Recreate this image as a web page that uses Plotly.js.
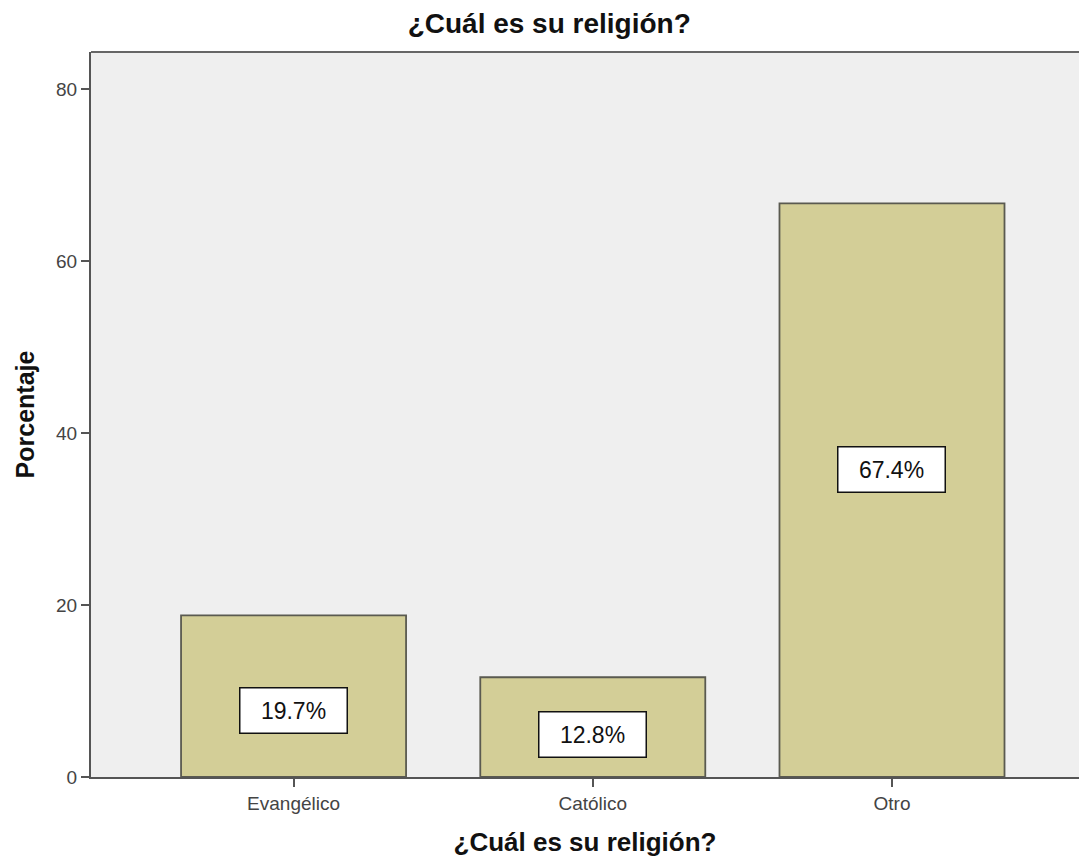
<!DOCTYPE html>
<html>
<head>
<meta charset="utf-8">
<script src="https://cdn.plot.ly/plotly-3.0.1.min.js"></script>
<style>html,body{margin:0;padding:0;background:#fff;}#chart{width:1079px;height:860px;}</style>
</head>
<body>
<div id="chart"></div>
<script>
// Data
const categories = ["Evangélico", "Católico", "Otro"];
const barValues = [18.8, 11.6, 66.7];
const labelTexts = ["19.7%", "12.8%", "67.4%"];
const yTicks = [0, 20, 40, 60, 80];

// label placement (layout only)
const labelY = [7.7, 5.0, 35.7];

const FONT = "Liberation Sans, Arial, sans-serif";

const trace = {
  type: "bar",
  x: categories,
  y: barValues,
  marker: { color: "#d3ce97", line: { color: "#5a5a50", width: 1.8 } },
  hoverinfo: "skip"
};

const annotations = categories.map((c, i) => ({
  x: c, y: labelY[i], xref: "x", yref: "y",
  text: labelTexts[i], showarrow: false,
  font: { family: FONT, size: 23, color: "#111" },
  bgcolor: "#ffffff", bordercolor: "#111", borderwidth: 1.5, borderpad: 1,
  width: 104, height: 42
}));

const layout = {
  width: 1079, height: 860,
  margin: { l: 91, r: 0, t: 52, b: 83 },
  paper_bgcolor: "#ffffff",
  plot_bgcolor: "#efefef",
  showlegend: false,
  bargap: 0.248,
  title: {
    text: "<b>¿Cuál es su religión?</b>",
    x: 0.509, xref: "container", xanchor: "center",
    y: 1, yref: "container", yanchor: "top", pad: { t: 13 },
    font: { family: FONT, size: 28, color: "#111" }
  },
  xaxis: {
    type: "category",
    range: [-0.677, 2.625],
    showline: true, linecolor: "#555", linewidth: 2,
    ticks: "outside", ticklen: 8, tickwidth: 2, tickcolor: "#555",
    tickfont: { family: FONT, size: 19, color: "#444" },
    showgrid: false, zeroline: false, fixedrange: true,
    title: {
      text: "<b>¿Cuál es su religión?</b>", standoff: 20,
      font: { family: FONT, size: 26, color: "#111" }
    }
  },
  yaxis: {
    range: [0, 84.3],
    tickvals: yTicks, ticktext: yTicks.map(String),
    showline: true, linecolor: "#555", linewidth: 2,
    ticks: "outside", ticklen: 8, tickwidth: 2, tickcolor: "#555",
    tickfont: { family: FONT, size: 19, color: "#444" },
    showgrid: false, zeroline: false, fixedrange: true,
    title: {
      text: "<b>Porcentaje</b>", standoff: 14,
      font: { family: FONT, size: 25, color: "#111" }
    }
  },
  shapes: [{
    type: "line", xref: "paper", yref: "paper", x0: 0, x1: 1, y0: 1, y1: 1,
    line: { color: "#666", width: 2 }
  }],
  annotations: annotations
};

Plotly.newPlot("chart", [trace], layout, { displayModeBar: false, staticPlot: true });
</script>
</body>
</html>
